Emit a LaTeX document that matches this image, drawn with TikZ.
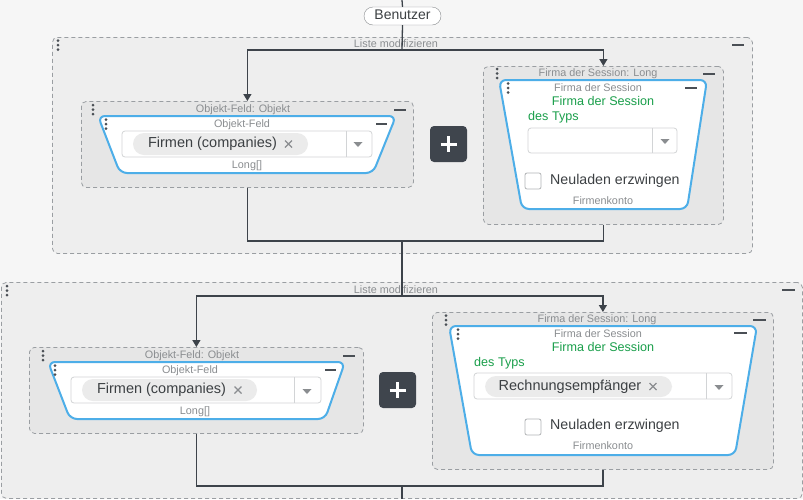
\documentclass[tikz,border=0pt]{standalone}
\usepackage{fontspec}
\setmainfont{Liberation Sans}
\usetikzlibrary{arrows.meta}
\definecolor{bgout}{HTML}{F6F6F6}
\definecolor{panelfill}{HTML}{EEEEEE}
\definecolor{groupfill}{HTML}{E6E6E6}
\definecolor{dashc}{HTML}{9A9EA2}
\definecolor{graytxt}{HTML}{8A8D90}
\definecolor{darktxt}{HTML}{3C4043}
\definecolor{greentxt}{HTML}{1A9F4B}
\definecolor{bluec}{HTML}{4DAEE8}
\definecolor{linec}{HTML}{3D434A}
\definecolor{btnc}{HTML}{3F454D}
\definecolor{chipc}{HTML}{EBEBEB}
\definecolor{boxc}{HTML}{D2D4D6}
\definecolor{dotc}{HTML}{4A4F55}
\tikzset{
  panel/.style={draw=dashc, dash pattern=on 4pt off 3pt, fill=panelfill, rounded corners=5pt, line width=0.8pt, inner sep=0pt, anchor=north west},
  grp/.style={draw=dashc, dash pattern=on 4pt off 3pt, fill=groupfill, rounded corners=5pt, line width=0.8pt, inner sep=0pt, anchor=north west},
  conn/.style={draw=linec, line width=1.3pt},
  arr/.style={conn, -{Triangle[width=8pt,length=7pt]}},
  txt/.style={inner sep=0pt, text height=0.72em, text depth=0pt},
  small/.style={txt, font=\fontsize{10.8}{12}\selectfont, text=graytxt},
  green/.style={txt, font=\fontsize{12.6}{14}\selectfont, text=greentxt},
  big/.style={txt, font=\fontsize{14.5}{16}\selectfont, text=darktxt},
  trap/.style={draw=bluec, fill=white, line width=2pt, rounded corners=7pt},
  combo/.style={draw=boxc, fill=white, line width=0.8pt, rounded corners=3pt},
  chip/.style={fill=chipc, rounded corners=11pt},
  minus/.style={draw=dotc, line width=2pt},
  btn/.style={fill=btnc, rounded corners=4pt},
  xm/.style={draw=graytxt, line width=1.2pt},
}
\newcommand{\dotsicon}[2]{\fill[dotc] (#1,#2) circle (1.5pt) (#1,#2+4.5) circle (1.5pt) (#1,#2+9) circle (1.5pt);}
\newcommand{\minusicon}[3]{\draw[minus] (#1,#3) -- (#2,#3);}
\newcommand{\ddarrow}[2]{\fill[graytxt] (#1-4.5,#2-2) -- (#1+4.5,#2-2) -- (#1,#2+3) -- cycle;}
\newcommand{\xicon}[2]{\draw[xm] (#1-3.5,#2-3.5) -- (#1+3.5,#2+3.5) (#1-3.5,#2+3.5) -- (#1+3.5,#2-3.5);}
\begin{document}
\begin{tikzpicture}[x=1pt,y=-1pt]
\useasboundingbox (0,0) rectangle (803,499);
\fill[bgout] (0,0) rectangle (803,499);

% panels
\node[panel, minimum width=700pt, minimum height=216pt] (p1) at (52,37) {};
\node[small] (p1t) at (396,44) {Liste modifizieren};
\dotsicon{58}{40.5}
\minusicon{732}{744}{45}

\node[panel, minimum width=801pt, minimum height=216pt] (p2) at (1,282) {};
\node[small] (p2t) at (396,290) {Liste modifizieren};
\dotsicon{7}{286}
\minusicon{782}{795}{290}

% Benutzer
\node[draw=graytxt, fill=white, rounded corners=9pt, minimum width=77pt, minimum height=18pt, inner sep=0pt, font=\fontsize{14}{16}\selectfont, text=darktxt, text height=0.72em, text depth=0pt] (ben) at (402.5,16) {Benutzer};
\coordinate (top) at (402,0);
\coordinate (b1) at (402,50);
\coordinate (j1) at (402,241);
\coordinate (b2) at (402,296);
\coordinate (j2) at (402,486);
\coordinate (bot) at (402,499);

% ---------- group 1 left
\node[grp, minimum width=332pt, minimum height=86pt] (g1L) at (81,101) {};
\dotsicon{93}{105}
\node[small] (g1Lt) at (243,109) {Objekt-Feld: Objekt};
\minusicon{394}{406}{110}
\draw[trap] (247,116) -- (396,116) -- (373,173) -- (120,173) -- (98,116) -- cycle;
\dotsicon{106}{119.5}
\minusicon{376}{387}{124}
\node[small] (t1L) at (242,124) {Objekt-Feld};
\draw[combo] (122,131) rectangle (372,157);
\draw[boxc, line width=0.8pt] (346,131) -- (346,157);
\fill[chip] (133,133) rectangle (308,155);
\node[big] (c1L) at (212.5,144) {Firmen (companies)};
\xicon{288.5}{144}
\ddarrow{358}{144}
\node[small] (l1L) at (247,165) {Long[]};

% ---------- group 1 right
\node[grp, minimum width=240pt, minimum height=158pt] (g1R) at (483,66) {};
\dotsicon{497}{69}
\node[small] (g1Rt) at (598,73) {Firma der Session: Long};
\minusicon{703}{715}{74}
\draw[trap] (603,80) -- (707,80) -- (687,209) -- (522,209) -- (499,80) -- cycle;
\dotsicon{508}{83.5}
\minusicon{685}{697}{88}
\node[small] (t1R) at (598,88) {Firma der Session};
\node[green] (gr1) at (603,102) {Firma der Session};
\node[green, anchor=west] (ty1) at (528,117) {des Typs};
\draw[combo] (528,128) rectangle (677,153);
\draw[boxc, line width=0.8pt] (652,128) -- (652,153);
\ddarrow{665}{141}
\draw[combo, draw=boxc!85!black, rounded corners=2pt] (525,173) rectangle (541,189);
\node[big, anchor=west, font=\fontsize{14.2}{16}\selectfont] (ne1) at (550,181) {Neuladen erzwingen};
\node[small] (fk1) at (603,201) {Firmenkonto};

% plus button 1
\node[btn, minimum width=37pt, minimum height=36pt, inner sep=0pt] (plus1) at (448.5,144) {};
\draw[white, line width=3pt] (448.5,136) -- (448.5,152) (440.5,144) -- (456.5,144);

% ---------- group 2 left
\node[grp, minimum width=334pt, minimum height=86pt] (g2L) at (29,347) {};
\dotsicon{43}{351}
\node[small] (g2Lt) at (192,355) {Objekt-Feld: Objekt};
\minusicon{343}{355}{356}
\draw[trap] (196,362) -- (345,362) -- (325,419) -- (70,419) -- (48,362) -- cycle;
\dotsicon{55}{365.5}
\minusicon{325}{336}{370}
\node[small] (t2L) at (190,370) {Objekt-Feld};
\draw[combo] (71,377) rectangle (321,403);
\draw[boxc, line width=0.8pt] (294,377) -- (294,403);
\fill[chip] (82,379) rectangle (257,401);
\node[big] (c2L) at (161.5,390) {Firmen (companies)};
\xicon{238}{390}
\ddarrow{307}{391}
\node[small] (l2L) at (195,411) {Long[]};

% ---------- group 2 right
\node[grp, minimum width=341pt, minimum height=157pt] (g2R) at (432,312) {};
\dotsicon{446}{315.5}
\node[small] (g2Rt) at (597,319) {Firma der Session: Long};
\minusicon{753}{766}{320}
\draw[trap] (603,326) -- (757,326) -- (735,455) -- (472,455) -- (449,326) -- cycle;
\dotsicon{458}{329.5}
\minusicon{734}{747}{333}
\node[small] (t2R) at (598,334) {Firma der Session};
\node[green] (gr2) at (603,348) {Firma der Session};
\node[green, anchor=west] (ty2) at (474,363) {des Typs};
\draw[combo] (474,373) rectangle (732,399);
\draw[boxc, line width=0.8pt] (706,373) -- (706,399);
\fill[chip] (485,376) rectangle (672,397);
\node[big] (c2R) at (570,386.5) {Rechnungsempfänger};
\xicon{653}{386.5}
\ddarrow{719}{387}
\draw[combo, draw=boxc!85!black, rounded corners=2pt] (525,419) rectangle (541,435);
\node[big, anchor=west, font=\fontsize{14.2}{16}\selectfont] (ne2) at (550,426) {Neuladen erzwingen};
\node[small] (fk2) at (603,446) {Firmenkonto};

% plus button 2
\node[btn, minimum width=37pt, minimum height=36pt, inner sep=0pt] (plus2) at (397.5,390) {};
\draw[white, line width=3pt] (397.5,382) -- (397.5,398) (389.5,390) -- (405.5,390);

% ---------- connectors
\draw[conn] (top) -- (ben.north);
\draw[conn] (ben.south) -- (b1);
\draw[arr] (b1) -| (g1L.north);
\draw[arr] (b1) -| (g1R.north);
\draw[conn] (g1L.south) |- (j1);
\draw[conn] (g1R.south) |- (j1);
\draw[conn] (j1) -- (b2);
\draw[arr] (b2) -| (g2L.north);
\draw[arr] (b2) -| (g2R.north);
\draw[conn] (g2L.south) |- (j2);
\draw[conn] (g2R.south) |- (j2);
\draw[conn] (j2) -- (bot);
\end{tikzpicture}
\end{document}
